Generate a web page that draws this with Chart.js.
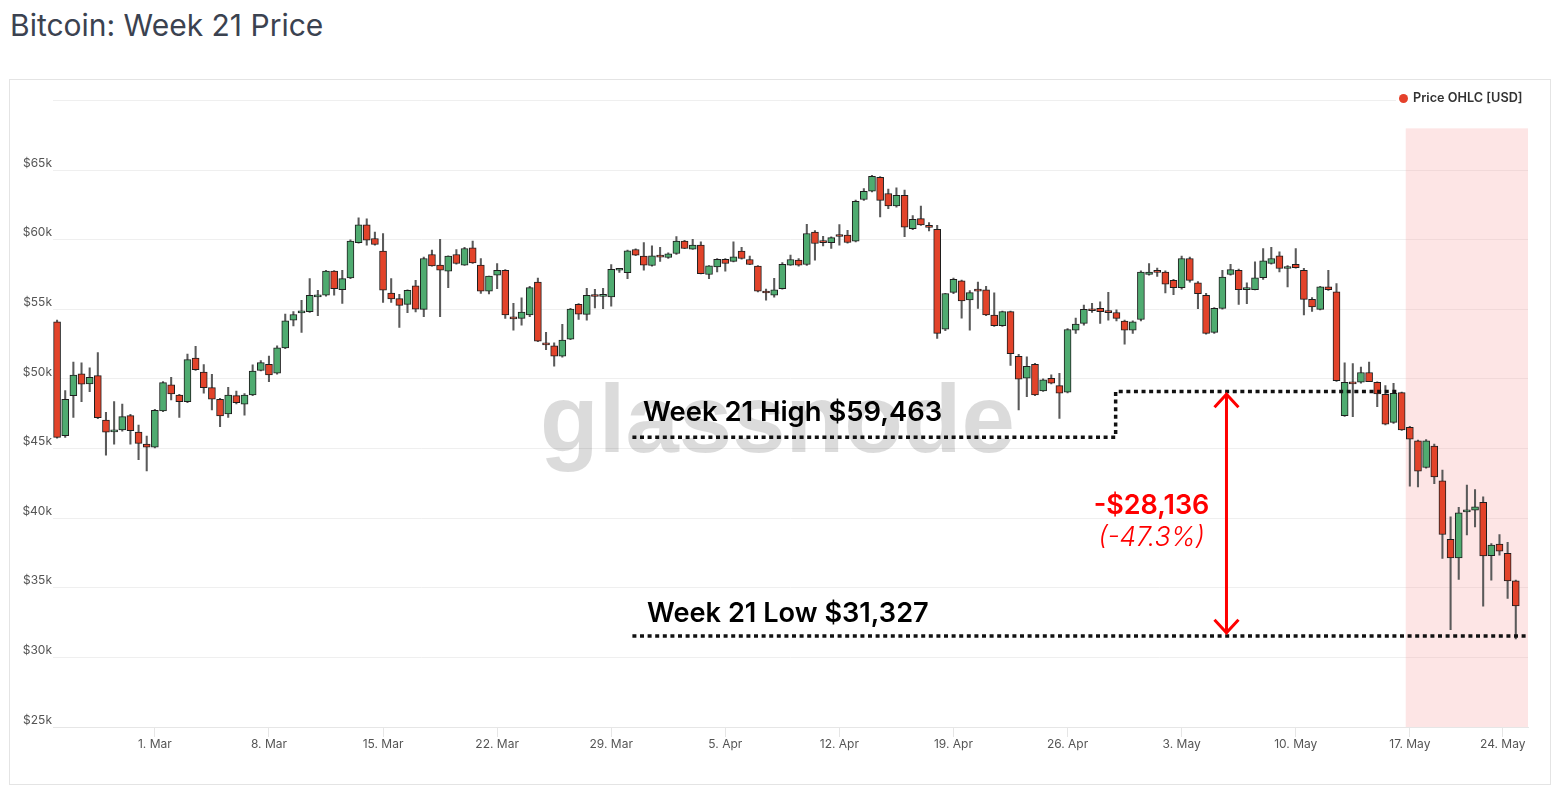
<!DOCTYPE html>
<html>
<head>
<meta charset="utf-8">
<script src="https://cdn.jsdelivr.net/npm/chart.js@4.4.1/dist/chart.umd.min.js"></script>
<style>
  html, body { margin: 0; padding: 0; background: #fff; }
  body { width: 1557px; height: 804px; position: relative; overflow: hidden; font-family: Inter, "Noto Sans", sans-serif; }
  #title { position: absolute; left: 10px; top: 7px; margin: 0; font-size: 30px; line-height: normal; font-weight: 400; color: #3b4250; }
  #frame { position: absolute; left: 9px; top: 79px; width: 1542px; height: 706px; box-sizing: border-box; border: 1px solid #e4e4e4; }
  #chart { position: absolute; left: 0; top: 0; }
</style>
</head>
<body>
<h1 id="title">Bitcoin: Week 21 Price</h1>
<div id="frame"><canvas id="chart" width="1540" height="704"></canvas></div>
<script>
// 12h candles, first one opens 23 Feb 2021 00:00
const startDate = Date.UTC(2021, 1, 23);

const opens = [
  54100, 45920, 48800, 50360, 49640, 50240, 47050, 46200, 46330, 47360, 46180, 45320, 45100, 47700, 49570, 48850,
  48370, 51490, 50500, 49380, 48540, 47480, 48800, 48180, 48850, 50620, 51050, 50410, 52230, 54230, 54750, 54830,
  55900, 56010, 57740, 56420, 57260, 59790, 61070, 60090, 59180, 56170, 55770, 55360, 56680, 55000, 58940, 58170,
  57740, 58940, 58170, 59420, 58170, 56300, 57450, 57810, 54420, 54350, 54590, 56960, 52500, 52370, 51630, 52860,
  55360, 54640, 55950, 55930, 55890, 57810, 57640, 59300, 58820, 58150, 58790, 58720, 59010, 59900, 59320, 59610,
  57500, 58050, 58600, 58450, 59180, 58580, 58100, 56200, 56010, 56490, 58170, 58530, 58220, 60550, 59830, 59790,
  60250, 60330, 59900, 62890, 63480, 64490, 63320, 62420, 63190, 60790, 61510, 60930, 60740, 53570, 56220, 57040,
  55670, 56330, 56400, 54590, 53820, 54830, 51630, 50050, 51050, 49140, 50050, 49520, 49050, 53510, 53990, 55020,
  55070, 54770, 54770, 54150, 53510, 54270, 57510, 57680, 57680, 57080, 56550, 58650, 56910, 56010, 53340, 55070,
  57500, 57810, 56420, 56420, 57270, 58290, 58840, 57930, 58240, 57810, 55720, 55000, 56610, 56250, 47360, 49760,
  49760, 50460, 49760, 48900, 46880, 49020, 46520, 45560, 43640, 45180, 42680, 38480, 37150, 40450, 40580, 41140,
  37300, 38130, 37470, 35500
];
const highs = [
  54220, 49160, 51220, 51150, 50790, 51900, 47600, 48370, 48200, 47450, 46690, 45900, 47820, 49810, 50120, 48900,
  51780, 52350, 51030, 50340, 48600, 49400, 49120, 48950, 51010, 51320, 51650, 52370, 54660, 54830, 55650, 57210,
  56370, 57810, 57780, 57810, 60000, 61580, 61500, 60550, 60450, 57210, 56080, 56400, 57080, 58750, 59250, 60020,
  58850, 59300, 59450, 59900, 58650, 57380, 58290, 57850, 55430, 55830, 56650, 57250, 53340, 52590, 53920, 55070,
  55420, 56510, 56440, 56510, 58220, 57950, 59250, 59350, 59790, 59560, 59450, 59050, 60220, 59950, 60030, 59850,
  58150, 58650, 58650, 59850, 59450, 58820, 58150, 56450, 57230, 58350, 58890, 58650, 61100, 60650, 60250, 60200,
  61080, 60680, 62850, 63670, 64630, 64530, 63630, 63720, 63560, 61730, 62420, 61230, 61030, 56150, 57250, 57100,
  56350, 56960, 56650, 56190, 54870, 54870, 51770, 51580, 51120, 50000, 50290, 50410, 53620, 54370, 55310, 55430,
  55540, 56220, 54970, 54220, 54170, 57760, 58290, 57960, 57760, 57150, 58820, 58750, 57000, 56150, 55120, 57810,
  58240, 57900, 56900, 58410, 59370, 59450, 59130, 58150, 59370, 57950, 55850, 56650, 57810, 56850, 51150, 51100,
  50860, 51220, 49800, 49520, 49690, 49050, 46600, 45600, 45650, 45320, 43450, 40100, 40770, 42380, 42060, 41540,
  38180, 38820, 38260, 35550
];
const lows = [
  45750, 45800, 47240, 48370, 49090, 47150, 44530, 45320, 46250, 45320, 44210, 43400, 45050, 47650, 48490, 47240,
  48300, 50620, 48970, 47770, 46570, 47240, 48200, 47400, 48800, 50570, 49800, 50350, 52170, 53800, 53340, 54770,
  54540, 55950, 56010, 55430, 57200, 59750, 59610, 59600, 55500, 55500, 53700, 54760, 54820, 54470, 58100, 54470,
  56550, 58250, 58150, 58300, 56150, 56100, 56490, 54350, 53510, 53870, 54470, 52670, 52110, 50910, 51570, 52820,
  54270, 54230, 55110, 55050, 55230, 57650, 57210, 58850, 57810, 58100, 58450, 58650, 58950, 59350, 59300, 57550,
  57210, 57690, 57740, 58400, 58600, 58200, 56250, 55650, 55880, 56450, 58150, 58100, 58150, 58530, 59550, 59370,
  59610, 59750, 59850, 62830, 63430, 61630, 62230, 62330, 60220, 60730, 61030, 60630, 52910, 53470, 56120, 54370,
  53510, 55070, 54550, 53780, 53770, 50970, 47770, 48730, 48800, 49100, 49650, 47170, 49000, 53270, 53870, 54770,
  53990, 54230, 54170, 52500, 53270, 54170, 57460, 57360, 56170, 56050, 56450, 56950, 55050, 53220, 53270, 55020,
  57450, 55360, 55410, 56400, 57150, 58250, 57690, 56610, 57950, 54590, 54850, 54950, 56350, 49830, 47300, 47290,
  49700, 49800, 48010, 46700, 46800, 46300, 42290, 42240, 43600, 42480, 37110, 31990, 35600, 38790, 39380, 33670,
  35550, 37350, 34230, 31330
];
const closes = [
  45800, 48540, 50270, 49620, 50120, 47220, 46180, 46300, 47290, 46280, 45370, 45100, 47750, 49740, 48920, 48370,
  51390, 50670, 49380, 48540, 47340, 48850, 48300, 48850, 50570, 51170, 50290, 52230, 54170, 54630, 54870, 56010,
  56000, 57740, 56490, 57210, 59900, 61070, 59970, 59660, 56370, 55740, 55290, 56370, 55020, 58650, 58120, 57810,
  58820, 58290, 59370, 58340, 56300, 57380, 57810, 54590, 54320, 54800, 56560, 52710, 52450, 51630, 52790, 55020,
  54660, 56010, 55920, 55950, 57880, 57850, 59200, 58890, 58170, 58840, 58750, 58990, 59900, 59370, 59610, 57570,
  58120, 58600, 58290, 58770, 58650, 58220, 56300, 56170, 56400, 58240, 58580, 58170, 60450, 59730, 59790, 60150,
  60230, 59800, 62760, 63480, 64560, 62830, 62420, 63190, 60910, 61460, 61070, 60890, 53270, 56140, 57150, 55600,
  56200, 56310, 54590, 53820, 54830, 51820, 49980, 50910, 48850, 49930, 49690, 48970, 53550, 53940, 55000, 54900,
  54830, 54760, 54350, 53510, 54100, 57680, 57680, 57660, 56800, 56550, 58650, 57080, 56120, 53270, 55070, 57320,
  57850, 56420, 56450, 57270, 58480, 58650, 57930, 58050, 58000, 55720, 55170, 56610, 56420, 49880, 49760, 49650,
  50460, 49810, 48920, 46760, 48970, 46330, 45680, 43370, 45560, 42960, 38830, 37150, 40390, 40500, 40820, 37280,
  38060, 37630, 35500, 33700
];

const xTickLabels = ['1. Mar', '8. Mar', '15. Mar', '22. Mar', '29. Mar', '5. Apr', '12. Apr', '19. Apr', '26. Apr', '3. May', '10. May', '17. May', '24. May'];
const xTickDates = ['2021-03-01', '2021-03-08', '2021-03-15', '2021-03-22', '2021-03-29', '2021-04-05', '2021-04-12', '2021-04-19', '2021-04-26', '2021-05-03', '2021-05-10', '2021-05-17', '2021-05-24'];

const weekStart = '2021-05-17';
const weekHigh = 59463;
const weekLow = 31327;

const RED = '#e2432a';
const GREEN = '#4fab70';

// date -> candle index (12h steps)
function toIndex(d) {
  return (Date.parse(d + 'T00:00:00Z') - startDate) / (12 * 3600 * 1000);
}

const bodies = opens.map((o, i) => ({ x: i, y: [o, closes[i]] }));
const wicks = lows.map((l, i) => ({ x: i, y: [l, highs[i]] }));
const bodyColors = opens.map((o, i) => closes[i] >= o ? GREEN : RED);

const fmt = n => '$' + n.toLocaleString('en-US');

const extras = {
  id: 'extras',
  beforeDatasetsDraw(chart) {
    const { ctx, chartArea, scales: { x, y } } = chart;
    ctx.save();
    // week 21 band
    const bx = x.getPixelForValue(toIndex(weekStart) - 0.5);
    const by = y.getPixelForValue(68000);
    ctx.fillStyle = 'rgba(248,160,160,0.28)';
    ctx.fillRect(bx, by, chartArea.right - bx, chartArea.bottom - by);
    // watermark
    ctx.fillStyle = 'rgba(0,0,0,0.14)';
    ctx.font = 'bold 96px "Liberation Sans", Arial, sans-serif';
    ctx.textAlign = 'center';
    ctx.textBaseline = 'alphabetic';
    ctx.fillText('glassnode', x.getPixelForValue(88.4), y.getPixelForValue(44750));
    ctx.restore();
  },
  afterDatasetsDraw(chart) {
    const { ctx, chartArea, scales: { x, y } } = chart;
    ctx.save();
    // dotted guides
    ctx.strokeStyle = '#111';
    ctx.lineWidth = 3.5;
    ctx.setLineDash([4, 3.6]);
    ctx.beginPath();
    ctx.moveTo(x.getPixelForValue(70.6), y.getPixelForValue(45820));
    ctx.lineTo(x.getPixelForValue(129.9), y.getPixelForValue(45820));
    ctx.lineTo(x.getPixelForValue(129.9), y.getPixelForValue(49100));
    ctx.lineTo(x.getPixelForValue(164.6), y.getPixelForValue(49100));
    ctx.stroke();
    ctx.beginPath();
    ctx.moveTo(x.getPixelForValue(70.6), y.getPixelForValue(31530));
    ctx.lineTo(chartArea.right, y.getPixelForValue(31530));
    ctx.stroke();
    ctx.setLineDash([]);

    // red arrow
    const ax = x.getPixelForValue(143.5);
    const ay1 = y.getPixelForValue(48980);
    const ay2 = y.getPixelForValue(31700);
    ctx.strokeStyle = '#ff0000';
    ctx.lineWidth = 3;
    ctx.beginPath();
    ctx.moveTo(ax, ay1); ctx.lineTo(ax, ay2);
    ctx.moveTo(ax - 12, ay1 + 14); ctx.lineTo(ax, ay1 + 1); ctx.lineTo(ax + 12, ay1 + 14);
    ctx.moveTo(ax - 12, ay2 - 14); ctx.lineTo(ax, ay2 - 1); ctx.lineTo(ax + 12, ay2 - 14);
    ctx.stroke();

    // labels
    ctx.textBaseline = 'middle';
    ctx.textAlign = 'left';
    ctx.fillStyle = '#000';
    ctx.font = '600 27.4px Inter, sans-serif';
    ctx.fillText('Week 21 High ' + fmt(weekHigh), x.getPixelForValue(71.9), y.getPixelForValue(47550));
    ctx.font = '600 27.2px Inter, sans-serif';
    ctx.fillText('Week 21 Low ' + fmt(weekLow), x.getPixelForValue(72.4), y.getPixelForValue(33110));

    ctx.textAlign = 'center';
    ctx.fillStyle = '#ff0000';
    ctx.font = '600 27px Inter, sans-serif';
    ctx.fillText('-' + fmt(weekHigh - weekLow), x.getPixelForValue(134.3), y.getPixelForValue(40900));
    ctx.font = 'italic 300 26.5px Inter, sans-serif';
    const pct = ((weekLow - weekHigh) / weekHigh * 100).toFixed(1);
    ctx.fillText('(' + pct + '%)', x.getPixelForValue(134.3), y.getPixelForValue(38600));
    ctx.restore();
  },
  afterDraw(chart) {
    // legend, top right over the top grid line
    const { ctx } = chart;
    ctx.save();
    ctx.fillStyle = '#fff';
    ctx.fillRect(1386, 8, 140, 20);
    ctx.fillStyle = '#e5412b';
    ctx.beginPath();
    ctx.arc(1393.5, 18.5, 4.5, 0, Math.PI * 2);
    ctx.fill();
    ctx.fillStyle = '#333';
    ctx.font = '600 12.7px Inter, sans-serif';
    ctx.textAlign = 'left';
    ctx.textBaseline = 'middle';
    ctx.fillText(chart.data.datasets[0].label, 1403, 18.5);
    ctx.restore();
  }
};

Chart.defaults.font.family = 'Inter, "Noto Sans", sans-serif';

new Chart(document.getElementById('chart'), {
  type: 'bar',
  data: {
    datasets: [
      {
        label: 'Price OHLC [USD]',
        data: bodies,
        backgroundColor: bodyColors,
        borderColor: '#1e1e1e',
        borderWidth: 1,
        borderSkipped: false,
        barThickness: 7,
        minBarLength: 2,
        grouped: false
      },
      {
        label: 'wick',
        data: wicks,
        backgroundColor: '#5a5a5a',
        borderWidth: 0,
        barThickness: 1.4,
        grouped: false
      }
    ]
  },
  options: {
    responsive: false,
    animation: false,
    devicePixelRatio: 1,
    layout: { padding: { top: 20.5, right: 22, left: 0, bottom: 0 } },
    plugins: { legend: { display: false }, tooltip: { enabled: false } },
    scales: {
      x: {
        type: 'linear',
        min: -0.5,
        max: 180.5,
        offset: false,
        afterBuildTicks: s => {
          s.ticks = xTickDates.map(d => ({ value: Math.min(toIndex(d), s.max - 3.1) }));
        },
        afterFit: s => { s.height = 57; },
        grid: { offset: false, drawOnChartArea: false, drawTicks: true, tickLength: 10, color: '#e6e6e6' },
        border: { display: true, color: '#e6e6e6' },
        ticks: {
          autoSkip: false,
          maxRotation: 0,
          padding: 0,
          color: '#555',
          font: { size: 12 },
          callback: (v, i) => xTickLabels[i]
        }
      },
      y: {
        min: 25000,
        max: 70000,
        afterFit: s => { s.width = 43; },
        grid: { color: '#efefef', drawTicks: false },
        border: { display: false },
        ticks: {
          stepSize: 5000,
          labelOffset: -7,
          padding: 1,
          color: '#555',
          font: { size: 12 },
          callback: v => v >= 70000 ? '' : '$' + (v / 1000) + 'k'
        }
      }
    }
  },
  plugins: [extras]
});
</script>
</body>
</html>
